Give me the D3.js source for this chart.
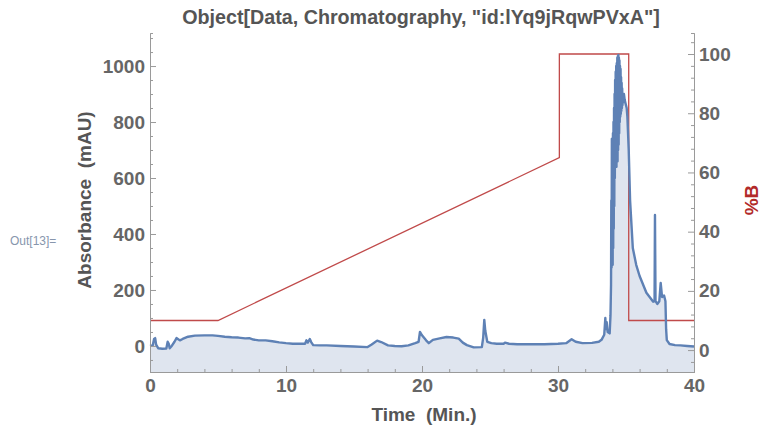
<!DOCTYPE html>
<html>
<head>
<meta charset="utf-8">
<script src="https://cdnjs.cloudflare.com/ajax/libs/d3/7.8.5/d3.min.js"></script>
<style>
  html, body { margin: 0; padding: 0; background: #fff; }
  svg { display: block; }
  text { font-family: "Liberation Sans", Arial, sans-serif; white-space: pre; }
</style>
</head>
<body>
<svg id="chart" width="763" height="426"></svg>
<script>
// ---------- DATA ----------
const titleText = 'Object[Data, Chromatography, "id:lYq9jRqwPVxA"]';
const xLabel = "Time  (Min.)";
const yLeftLabel = "Absorbance  (mAU)";
const yRightLabel = "%B";
const outLabel = "Out[13]=";

const xTicks = [0, 10, 20, 30, 40];
const yLeftTicks = [0, 200, 400, 600, 800, 1000];
const yRightTicks = [0, 20, 40, 60, 80, 100];

// gradient (%B)
const gradTime = [0, 5, 30.1, 30.1, 35.2, 35.2, 40];
const gradB    = [10, 10, 65, 100, 100, 10, 10];

// absorbance trace (time in min, value in mAU)
const traceTime = [
  0.0, 0.2, 0.3, 0.38, 0.45, 0.6, 0.9, 1.2, 1.3, 1.38, 1.45, 1.6, 1.8, 1.95, 2.05, 2.2, 2.4, 2.8, 3.3, 4.0,
  4.6, 5.0, 5.5, 6.0, 6.5, 7.0, 7.3, 7.6, 8.0, 8.5, 9.0, 9.5, 10.0, 10.5, 11.0, 11.4, 11.5, 11.6, 11.75, 11.85,
  12.0, 12.5, 13.0, 14.0, 15.0, 16.0, 16.3, 16.7, 17.0, 17.5, 18.0, 18.5, 19.0, 19.5, 19.75, 19.85, 20.0, 20.3, 20.5, 20.8,
  21.3, 21.8, 22.3, 22.7, 23.0, 23.3, 23.8, 24.4, 24.5, 24.58, 24.65, 24.8, 25.1, 25.5, 26.0, 26.1, 26.4, 27.0, 28.0, 29.0,
  30.0, 30.6, 31.0, 31.3, 31.8, 32.5, 33.0, 33.2, 33.4, 33.48, 33.52, 33.58, 33.65, 33.8, 33.86, 33.9, 33.92, 33.94, 33.96, 33.98,
  34.0, 34.02, 34.04, 34.06, 34.08, 34.1, 34.12, 34.14, 34.16, 34.18, 34.2, 34.22, 34.24, 34.26, 34.28, 34.3, 34.32, 34.34, 34.36, 34.38,
  34.4, 34.42, 34.44, 34.46, 34.48, 34.5, 34.52, 34.54, 34.56, 34.58, 34.6, 34.62, 34.64, 34.66, 34.68, 34.7, 34.72, 34.74, 34.76, 34.8,
  34.85, 34.9, 34.95, 35.0, 35.05, 35.1, 35.2, 35.3, 35.5, 35.75, 36.0, 36.5, 37.0, 37.1, 37.13, 37.17, 37.3, 37.45, 37.55, 37.65,
  37.8, 37.9, 37.95, 38.0, 38.2, 38.6, 39.0, 39.5, 40.0
];
const traceValue = [
  0, 2, 25, 28, 5, -8, -10, -9, 15, 8, -8, 0, 15, 28, 25, 20, 25, 33, 37, 38,
  38, 36, 33, 31, 30, 27, 28, 23, 20, 20, 17, 13, 10, 8, 8, 8, 20, 12, 25, 14,
  3, 2, 2, 0, -2, -4, 5, 19, 14, 2, 0, -1, 2, 10, 15, 50, 38, 20, 10, 22,
  27, 32, 30, 26, 12, 3, -5, -4, 30, 93, 55, 15, 10, 8, 8, 12, 8, 6, 6, 6,
  8, 10, 24, 15, 10, 11, 15, 22, 40, 100, 60, 85, 50, 45, 110, 220, 520, 280, 740, 300,
  720, 290, 760, 350, 800, 420, 850, 500, 900, 600, 950, 650, 980, 680, 1000, 640, 1010, 700, 1030, 660,
  1035, 700, 1040, 720, 1030, 760, 1020, 800, 1000, 820, 990, 830, 960, 840, 940, 850, 920, 860, 900, 870,
  900, 880, 870, 860, 850, 820, 700, 520, 350, 290, 250, 190, 158, 160, 468, 160, 150, 160, 225, 175,
  180, 160, 60, 21, 7, 3, 2, 0, -2
];

// ---------- LAYOUT ----------
const svg = d3.select("#chart");
const x = d3.scaleLinear().domain([0, 40]).range([150, 694]);
const yL = d3.scaleLinear().domain([-93, 1118]).range([372, 33]);
const yR = d3.scaleLinear().domain([-7.4, 107.1]).range([372, 33]);

const axisColor = "#9a9a9a";
const tickTextColor = "#666666";
const blue = "#5E81B5";
const red = "#c04a4a";

const trace = traceTime.map((t, i) => ({t, v: traceValue[i]}));
const grad = gradTime.map((t, i) => ({t, b: gradB[i]}));

// fill
svg.append("path")
  .datum(trace)
  .attr("fill", "#dfe5ef")
  .attr("d", d3.area().x(d => x(d.t)).y0(yL.range()[0]).y1(d => yL(d.v)));

// gradient line
svg.append("path")
  .datum(grad)
  .attr("fill", "none")
  .attr("stroke", red)
  .attr("stroke-width", 1.3)
  .attr("d", d3.line().x(d => x(d.t)).y(d => yR(d.b)));

// trace line
svg.append("path")
  .datum(trace)
  .attr("fill", "none")
  .attr("stroke", blue)
  .attr("stroke-width", 2.4)
  .attr("stroke-linejoin", "round")
  .attr("d", d3.line().x(d => x(d.t)).y(d => yL(d.v)));

function styleAxis(g) {
  g.select(".domain").attr("stroke", axisColor).attr("stroke-width", 1);
  g.selectAll(".tick line").attr("stroke", axisColor);
  g.selectAll(".tick text")
    .attr("fill", tickTextColor)
    .attr("font-size", 19)
    .attr("font-weight", "bold")
    .attr("font-family", "'Liberation Sans', Arial, sans-serif");
}

// minor ticks
const minorX = d3.range(-0, 41, 2).filter(v => v % 10 !== 0);
const minorL = d3.range(-50, 1101, 50).filter(v => v % 200 !== 0);
const minorR = d3.range(-4, 107, 4).filter(v => v % 20 !== 0);

svg.append("g").attr("transform", "translate(0,372)")
  .call(d3.axisBottom(x).tickValues(minorX).tickSize(-3).tickFormat(""))
  .call(styleAxis);
svg.append("g").attr("transform", "translate(150,0)")
  .call(d3.axisLeft(yL).tickValues(minorL).tickSize(-3).tickFormat(""))
  .call(styleAxis);
svg.append("g").attr("transform", "translate(694,0)")
  .call(d3.axisRight(yR).tickValues(minorR).tickSize(-3).tickFormat(""))
  .call(styleAxis);

// major axes
svg.append("g").attr("transform", "translate(0,372)")
  .call(d3.axisBottom(x).tickValues(xTicks).tickSizeInner(-6).tickSizeOuter(0).tickPadding(7).tickFormat(d3.format("d")))
  .call(styleAxis);
svg.append("g").attr("transform", "translate(150,0)")
  .call(d3.axisLeft(yL).tickValues(yLeftTicks).tickSizeInner(-6).tickSizeOuter(0).tickPadding(5).tickFormat(d3.format("d")))
  .call(styleAxis);
svg.append("g").attr("transform", "translate(694,0)")
  .call(d3.axisRight(yR).tickValues(yRightTicks).tickSizeInner(-6).tickSizeOuter(0).tickPadding(5).tickFormat(d3.format("d")))
  .call(styleAxis);

// title
const title = svg.append("text")
  .attr("x", 421).attr("y", 24)
  .attr("text-anchor", "middle")
  .attr("font-size", 17).attr("font-weight", "bold")
  .attr("fill", "#555555")
  .text(titleText);
const tw = title.node().getComputedTextLength();
if (tw > 0) title.attr("font-size", 17 * 478 / tw);

// axis labels
svg.append("text")
  .attr("x", 424).attr("y", 421)
  .attr("text-anchor", "middle")
  .attr("font-size", 19).attr("font-weight", "bold")
  .attr("fill", "#555555")
  .text(xLabel);

svg.append("text")
  .attr("transform", "translate(91,200) rotate(-90)")
  .attr("text-anchor", "middle")
  .attr("font-size", 19).attr("font-weight", "bold")
  .attr("fill", "#555555")
  .text(yLeftLabel);

svg.append("text")
  .attr("transform", "translate(758,200) rotate(-90)")
  .attr("text-anchor", "middle")
  .attr("font-size", 19).attr("font-weight", "bold")
  .attr("fill", "#b22a2a")
  .text(yRightLabel);

svg.append("text")
  .attr("x", 10).attr("y", 245)
  .attr("font-size", 12)
  .attr("fill", "#8796ad")
  .text(outLabel);
</script>
</body>
</html>
